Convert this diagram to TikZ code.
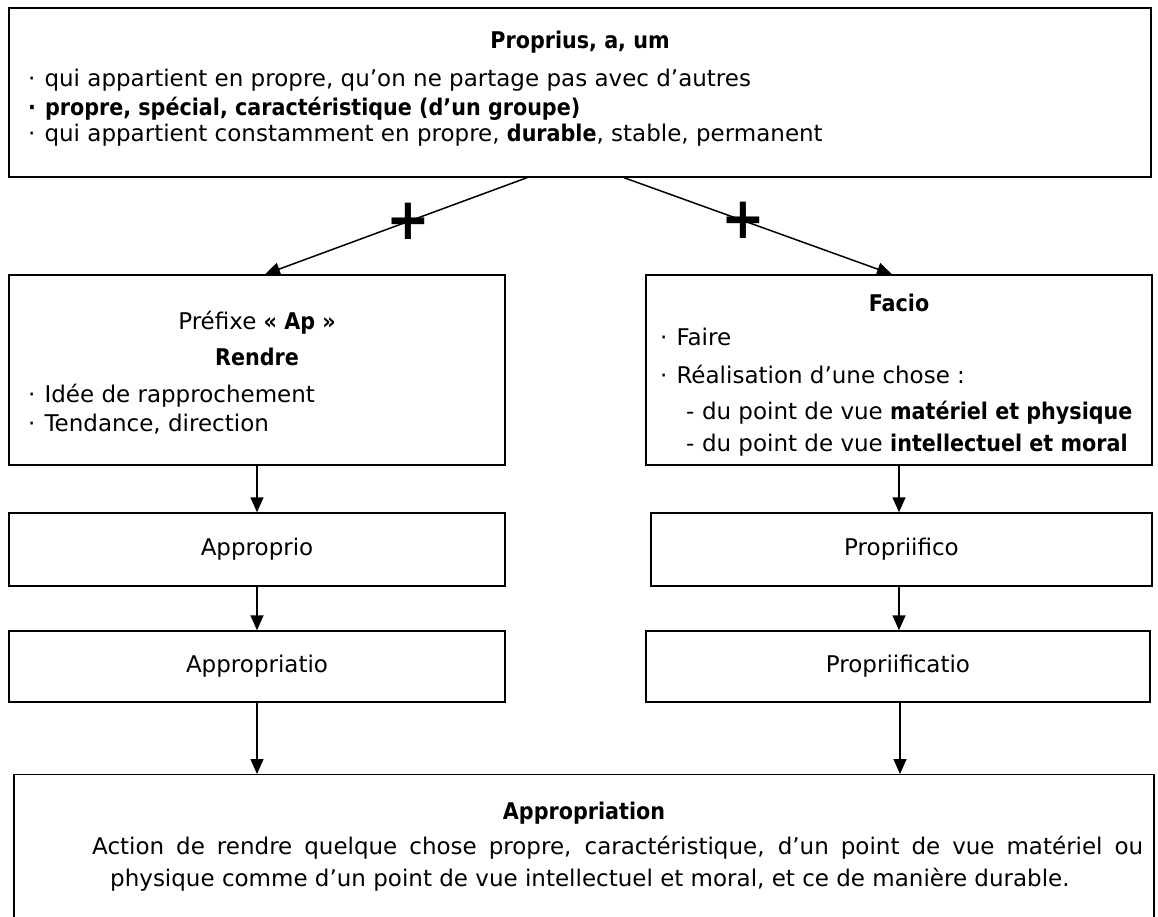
\documentclass[tikz,border=0pt]{standalone}
\usepackage{fontspec}
\setmainfont{DejaVu Sans}[BoldFeatures={FakeStretch=0.9}]
\usetikzlibrary{arrows.meta}
\newcommand\mysz{\fontsize{23}{27}\selectfont}
\begin{document}
\begin{tikzpicture}[x=1pt,y=-1pt,
  box/.style={draw=black, line width=1.4pt, inner sep=0pt, font=\mysz},
  txt/.style={inner sep=0pt, font=\mysz, text height=16pt, text depth=5pt},
  bt/.style={txt, font=\mysz\bfseries},
  arr/.style={line width=1.5pt, -{Triangle[width=13pt,length=15pt]}},
  plus/.style={inner sep=0pt, font=\fontsize{58}{58}\selectfont\bfseries}]
\useasboundingbox (0,0) rectangle (1158,917);
% boxes
\node[box, minimum width=1142pt, minimum height=169pt] (top) at (580,92.5) {};
\node[box, minimum width=496pt, minimum height=190pt] (left) at (257,370) {};
\node[box, minimum width=506pt, minimum height=190pt] (right) at (899,370) {};
\node[box, minimum width=496pt, minimum height=73pt] (appro) at (257,549.5) {Approprio};
\node[box, minimum width=501pt, minimum height=73pt] (pfico) at (901.5,549.5) {Propriifico};
\node[box, minimum width=496pt, minimum height=71pt] (appatio) at (257,666.5) {Appropriatio};
\node[box, minimum width=504pt, minimum height=71pt] (pfatio) at (898,666.5) {Propriificatio};
\begin{scope}
\clip (0,0) rectangle (1158,917);
\node[box, minimum width=1140pt, minimum height=180pt, anchor=north] (bot) at (584,774) {};
\end{scope}
% top texts
\node[bt] (t0) at (580,43) {Proprius, a, um};
\node[txt, anchor=west] (t1) at (28,81) {·\hspace{9pt}qui appartient en propre, qu’on ne partage pas avec d’autres};
\node[bt, anchor=west] (t2) at (28,110) {·\hspace{9pt}propre, spécial, caractéristique (d’un groupe)};
\node[txt, anchor=west] (t3) at (28,136) {·\hspace{9pt}qui appartient constamment en propre, \textbf{durable}, stable, permanent};
% left texts
\node[txt] (l0) at (257,324) {Préfixe \textbf{« Ap »}};
\node[bt] (l1) at (257,360) {Rendre};
\node[txt, anchor=west] (l2) at (28,397) {·\hspace{9pt}Idée de rapprochement};
\node[txt, anchor=west] (l3) at (28,426) {·\hspace{9pt}Tendance, direction};
% right texts
\node[bt] (r0) at (899,306) {Facio};
\node[txt, anchor=west] (r1) at (660,340) {·\hspace{9pt}Faire};
\node[txt, anchor=west] (r2) at (660,378) {·\hspace{9pt}Réalisation d’une chose :};
\node[txt, anchor=west] (r3) at (686,414) {-\hspace{7.5pt}du point de vue \textbf{matériel et physique}};
\node[txt, anchor=west] (r4) at (686,446) {-\hspace{7.5pt}du point de vue \textbf{intellectuel et moral}};
% bottom texts
\node[bt] (b0) at (584,814) {Appropriation};
\node[txt, anchor=west] (b1) at (92,849) {\makebox[1051pt][s]{Action de rendre quelque chose propre, caractéristique, d’un point de vue matériel ou}};
\node[txt, anchor=west] (b2) at (110,881) {physique comme d’un point de vue intellectuel et moral, et ce de manière durable.};
% connectors
\draw[arr] ([xshift=-53pt]top.south) -- node[plus, pos=0.454] (p1) {+} ([xshift=8pt]left.north);
\draw[arr] ([xshift=44pt]top.south) -- node[plus, pos=0.444] (p2) {+} ([xshift=-7pt]right.north);
\draw[arr] (left.south) -- (appro.north);
\draw[arr] (appro.south) -- (appatio.north);
\draw[arr] (appatio.south) -- (appatio.south |- bot.north);
\draw[arr] (right.south) -- (right.south |- pfico.north);
\draw[arr] (pfico.south -| right.south) -- (right.south |- pfatio.north);
\draw[arr] ([xshift=2pt]pfatio.south) -- ([xshift=2pt]pfatio.south |- bot.north);
\end{tikzpicture}
\end{document}
